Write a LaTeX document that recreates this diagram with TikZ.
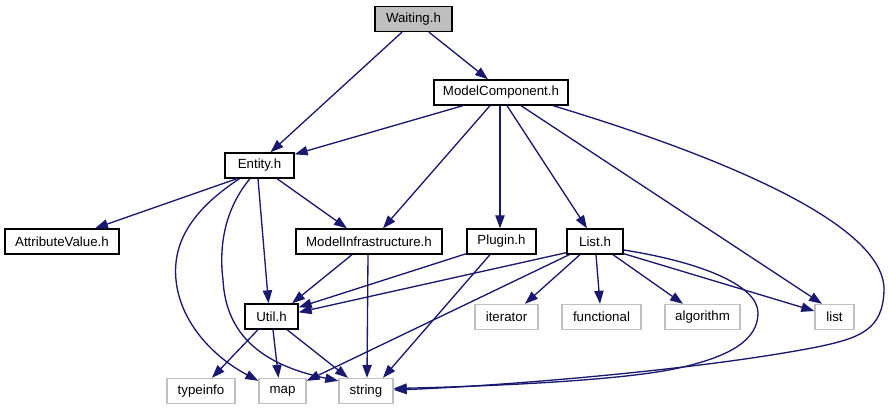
\documentclass[tikz,border=0pt]{standalone}
\usepackage{fontspec}
\setmainfont{Liberation Sans}
\usetikzlibrary{arrows.meta,calc}
\definecolor{edgec}{HTML}{191970}
\definecolor{gfill}{HTML}{BFBFBF}
\definecolor{gline}{HTML}{C0C0C0}
\tikzset{
  box/.style={draw=black, fill=white, line width=1.33pt, minimum height=25pt, inner sep=0pt, font=\fontsize{13.3}{16}\selectfont},
  gbox/.style={box, draw=gline},
  dep/.style={draw=edgec, line width=1.33pt, -{Triangle[length=13pt,width=9.3pt]}, line join=round}
}
\begin{document}
\begin{tikzpicture}[x=1pt,y=-1pt]
\useasboundingbox (0,0) rectangle (892,411);
% nodes
\node[box, fill=gfill, minimum width=77pt] (W) at (413.5,19) {Waiting.h};
\node[box, minimum width=134pt] (MC) at (501,92.5) {ModelComponent.h};
\node[box, minimum width=69pt] (E) at (259.5,165.5) {Entity.h};
\node[box, minimum width=114pt] (AV) at (62,241.5) {AttributeValue.h};
\node[box, minimum width=146pt] (MI) at (369,241.5) {ModelInfrastructure.h};
\node[box, minimum width=69pt] (P) at (501.5,241.5) {Plugin.h};
\node[box, minimum width=56pt] (L) at (595,241.5) {List.h};
\node[box, minimum width=53pt] (U) at (271.5,316.5) {Util.h};
\node[gbox, minimum width=63pt] (it) at (506.5,317) {iterator};
\node[gbox, minimum width=79pt] (fn) at (601.5,317) {functional};
\node[gbox, minimum width=75pt] (alg) at (702.5,317) {algorithm};
\node[gbox, minimum width=39pt] (lst) at (834.5,317) {list};
\node[gbox, minimum width=68pt] (ti) at (201,391) {typeinfo};
\node[gbox, minimum width=47pt] (map) at (282.5,391) {map};
\node[gbox, minimum width=54pt] (str) at (366,391) {string};
% edges from Waiting.h
\draw[dep] ($(W.south)+(-11.5,0)$) -- ($(E.north)+(11,0)$);
\draw[dep] ($(W.south)+(15.5,0)$) -- ($(MC.north)+(-13,0)$);
% edges from ModelComponent.h
\draw[dep] ($(MC.south)+(-38,0)$) -- ($(E.north east)+(0,2)$);
\draw[dep] ($(MC.south)+(-11,0)$) -- ($(MI.north)+(14,0)$);
\draw[dep] ($(MC.south)+(-1,0)$) -- ($(P.north)+(-1.5,0)$);
\draw[dep] ($(MC.south)+(6,0)$) -- ($(L.north)+(-8,0)$);
\draw[dep] ($(MC.south)+(20,0)$) -- ($(lst.north)+(-12.5,0)$);
\draw[dep] ($(MC.south)+(52,0)$) .. controls (700,150) and (885,220) .. (884,290)
  .. controls (883,330) and (860,338) .. (817,347)
  .. controls (700,370) and (500,386) .. ($(str.east)+(0,-1)$);
% edges from Entity.h
\draw[dep] ($(E.south)+(-22.5,0)$) -- ($(AV.north)+(33,0)$);
\draw[dep] ($(E.south)+(-20,0)$) .. controls (195,208) and (172,240) .. (176,280)
  .. controls (180,320) and (210,355) .. ($(map.north west)+(0,3)$);
\draw[dep] ($(E.south)+(-9.5,0)$) .. controls (228,205) and (218,240) .. (223,280)
  .. controls (226,335) and (262,365) .. ($(str.north west)+(0,3)$);
\draw[dep] ($(E.south)+(-1.5,0)$) -- ($(U.north)+(-3,0)$);
\draw[dep] ($(E.south)+(17.5,0)$) -- ($(MI.north)+(-22,0)$);
% edges from ModelInfrastructure.h
\draw[dep] ($(MI.south)+(-17,0)$) -- ($(U.north)+(20.5,0)$);
\draw[dep] ($(MI.south)+(-1,0)$) -- ($(str.north)+(1,0)$);
% edges from Plugin.h
\draw[dep] ($(P.south west)+(0,-1)$) -- ($(U.north east)+(0,4)$);
\draw[dep] ($(P.south)+(-11.5,0)$) -- ($(str.north)+(17,0)$);
% edges from List.h
\draw[dep] ($(L.south west)+(0,-2)$) -- ($(U.north east)+(0,9)$);
\draw[dep] ($(L.south west)+(3,0)$) -- ($(map.north east)+(0,3)$);
\draw[dep] ($(L.south)+(-15,0)$) -- ($(it.north)+(18.5,0)$);
\draw[dep] ($(L.south)+(1,0)$) -- ($(fn.north)+(-1.5,0)$);
\draw[dep] ($(L.south)+(18,0)$) -- ($(alg.north)+(-19.5,0)$);
\draw[dep] ($(L.south east)+(0,-1)$) -- ($(lst.west)+(0,-6)$);
\draw[dep] ($(L.east)+(0,8.5)$) .. controls (700,262) and (758,285) .. (758,313)
  .. controls (758,340) and (730,356) .. (683,367)
  .. controls (630,380) and (500,386) .. ($(str.east)+(0,-2.5)$);
% edges from Util.h
\draw[dep] ($(U.south)+(-13.5,0)$) -- ($(ti.north)+(11,0)$);
\draw[dep] ($(U.south)+(1.5,0)$) -- ($(map.north)+(-4,0)$);
\draw[dep] ($(U.south)+(15.5,0)$) -- ($(str.north)+(-18,0)$);
\end{tikzpicture}
\end{document}
